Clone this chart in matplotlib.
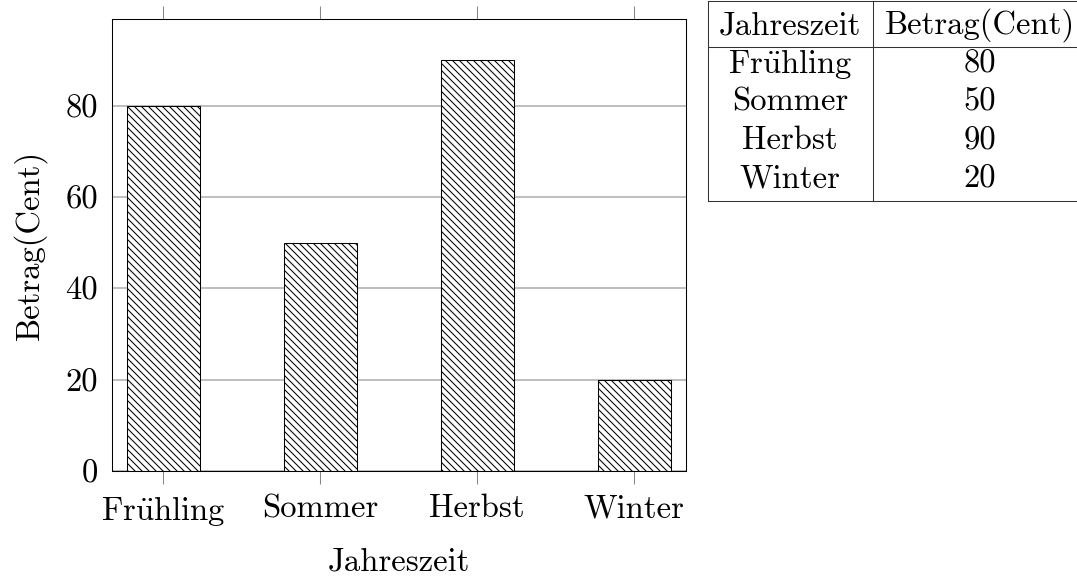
import numpy as np
import matplotlib.pyplot as plt

jahreszeiten = ['Fr$\\ddot{\\rm u}$hling', 'Sommer', 'Herbst', 'Winter']
betrag = [80, 50, 90, 20]
y_ticks = [0, 20, 40, 60, 80]
kopf = ['Jahreszeit', 'Betrag(Cent)']

plt.rcParams['font.family'] = ['cmr10', 'DejaVu Serif']
plt.rcParams['mathtext.fontset'] = 'cm'
plt.rcParams['hatch.linewidth'] = 0.9
plt.rcParams['hatch.color'] = 'black'

dpi = 84
fig = plt.figure(figsize=(1077 / dpi, 576 / dpi), dpi=dpi)
fs = 28

ax = fig.add_axes([112 / 1077, 1 - 471 / 576, 574 / 1077, 452 / 576])
x = np.arange(len(jahreszeiten))
ax.bar(x, betrag, 0.465, color='white', edgecolor='black', linewidth=0.9,
       hatch='\\\\\\\\', zorder=2)
ax.set_xlim(-0.325, 3.33)
ax.set_ylim(0, 99)
ax.set_yticks(y_ticks)
ax.set_xticks(x)
ax.set_xticklabels(jahreszeiten, fontsize=fs)
ax.tick_params(axis='y', labelsize=fs, length=0, pad=12)
ax.tick_params(axis='x', direction='out', length=11, color='#888888', width=0.9,
               top=True, pad=9)
ax.grid(axis='y', color='#bbbbbb', linewidth=1.6, zorder=0)
ax.set_axisbelow(True)
for s in ax.spines.values():
    s.set_linewidth(0.9)
ax.set_xlabel('Jahreszeit', fontsize=fs, labelpad=16)
ax.set_ylabel('Betrag(Cent)', fontsize=fs, labelpad=16)

# Tabelle rechts
tab = fig.add_axes([707 / 1077, 1 - 202 / 576, 400 / 1077, 202 / 576])
tab.set_xlim(0, 400)
tab.set_ylim(202, 0)
tab.axis('off')
col_mid = [83, 273]
kopf_h = 47
zeile_h = 38.2
lw = 0.9
tab.plot([1, 1], [1, 201], color='#333333', lw=lw, clip_on=False)
tab.plot([166, 166], [1, 201], color='#333333', lw=lw, clip_on=False)
tab.plot([1, 400], [1, 1], color='#333333', lw=lw, clip_on=False)
tab.plot([1, 400], [kopf_h, kopf_h], color='#333333', lw=lw, clip_on=False)
tab.plot([1, 400], [201, 201], color='#333333', lw=lw, clip_on=False)
for j, t in enumerate(kopf):
    tab.text(col_mid[j], kopf_h / 2 + 2, t, ha='center', va='center', fontsize=fs)
for i, (n, b) in enumerate(zip(jahreszeiten, betrag)):
    yc = kopf_h + zeile_h * (i + 0.5) - 2
    tab.text(col_mid[0], yc, n, ha='center', va='center', fontsize=fs)
    tab.text(col_mid[1], yc, str(b), ha='center', va='center', fontsize=fs)

fig.savefig('out.png', dpi=dpi)
